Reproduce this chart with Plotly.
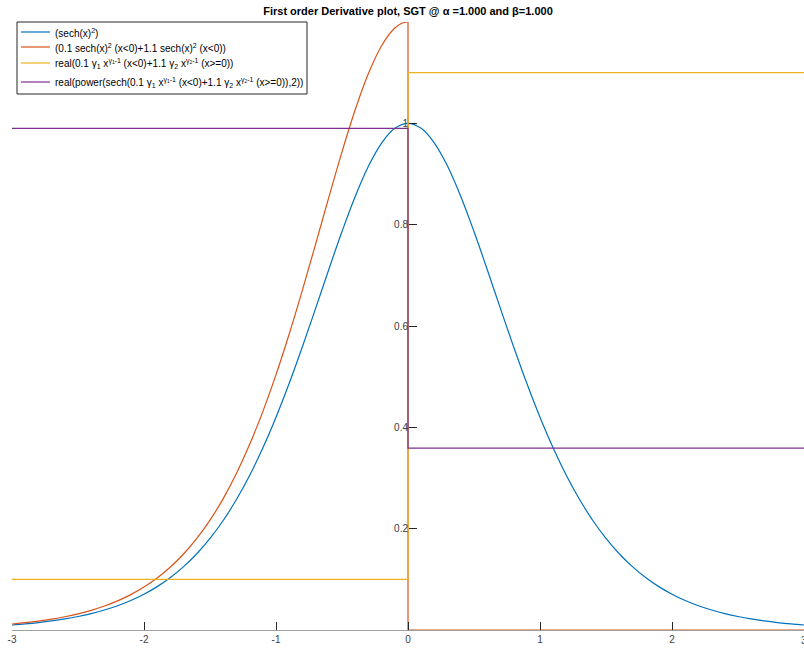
import plotly.graph_objects as go

# Sample positions
x_all = [-3.0, -2.9, -2.8, -2.7, -2.6, -2.5, -2.4, -2.3, -2.2, -2.1,
         -2.0, -1.9, -1.8, -1.7, -1.6, -1.5, -1.4, -1.3, -1.2, -1.1,
         -1.0, -0.9, -0.8, -0.7, -0.6, -0.5, -0.4, -0.3, -0.2, -0.1,
         0.0, 0.1, 0.2, 0.3, 0.4, 0.5, 0.6, 0.7, 0.8, 0.9,
         1.0, 1.1, 1.2, 1.3, 1.4, 1.5, 1.6, 1.7, 1.8, 1.9,
         2.0, 2.1, 2.2, 2.3, 2.4, 2.5, 2.6, 2.7, 2.8, 2.9, 3.0]

# (sech(x))^2
sech2_vals = [0.00987, 0.01204, 0.01468, 0.01790, 0.02182, 0.02659, 0.03238, 0.03941, 0.04792, 0.05822,
              0.07065, 0.08561, 0.10356, 0.12501, 0.15053, 0.18071, 0.21615, 0.25743, 0.30502, 0.35920,
              0.41997, 0.48692, 0.55905, 0.63474, 0.71158, 0.78645, 0.85564, 0.91514, 0.96104, 0.99007,
              1.00000, 0.99007, 0.96104, 0.91514, 0.85564, 0.78645, 0.71158, 0.63474, 0.55905, 0.48692,
              0.41997, 0.35920, 0.30502, 0.25743, 0.21615, 0.18071, 0.15053, 0.12501, 0.10356, 0.08561,
              0.07065, 0.05822, 0.04792, 0.03941, 0.03238, 0.02659, 0.02182, 0.01790, 0.01468, 0.01204, 0.00987]

# Piecewise sum, left branch (x<0) up to the origin
x_left = [-3.0, -2.9, -2.8, -2.7, -2.6, -2.5, -2.4, -2.3, -2.2, -2.1,
          -2.0, -1.9, -1.8, -1.7, -1.6, -1.5, -1.4, -1.3, -1.2, -1.1,
          -1.0, -0.9, -0.8, -0.7, -0.6, -0.5, -0.4, -0.3, -0.2, -0.1,
          -0.05, -0.02, 0.0]
piece_left_vals = [0.01184, 0.01445, 0.01762, 0.02148, 0.02618, 0.03191, 0.03886, 0.04729, 0.05750, 0.06986,
                   0.08478, 0.10273, 0.12427, 0.15001, 0.18064, 0.21685, 0.25938, 0.30892, 0.36602, 0.43104,
                   0.50396, 0.58430, 0.67086, 0.76169, 0.85390, 0.94374, 1.02677, 1.09817, 1.15325, 1.18808,
                   1.19701, 1.19952, 1.20000]
# Drop at the origin and right branch (x>=0)
x_piece_right = [0.0, 0.0, 3.0]
piece_right_vals = [1.2, 0.0, 0.0]

# real(0.1 g1 x^(g1-1) (x<0) + 1.1 g2 x^(g2-1) (x>=0))
x_step = [-3.0, 0.0, 0.0, 3.0]
deriv_vals = [0.1, 0.1, 1.1, 1.1]

# real(power(sech(...),2))
power_vals = [0.990, 0.990, 0.359, 0.359]

x_ticks = [-3, -2, -1, 0, 1, 2]
x_tick_text = ["-3", "-2", "-1", "0", "1", "2"]
y_ticks = [0.2, 0.4, 0.6, 0.8, 1.0, 1.2]
y_tick_text = ["0.2", "0.4", "0.6", "0.8", "1", ""]

legend_labels = [
    "(sech(x)<sup>2</sup>)",
    "(0.1 sech(x)<sup>2</sup> (x&lt;0)+1.1 sech(x)<sup>2</sup> (x&lt;0))",
    "real(0.1 γ<sub>1</sub> x<sup>γ<sub>1</sub>-1</sup> (x&lt;0)+1.1 γ<sub>2</sub> "
    "x<sup>γ<sub>2</sub>-1</sup> (x&gt;=0))",
    "real(power(sech(0.1 γ<sub>1</sub> x<sup>γ<sub>1</sub>-1</sup> (x&lt;0)+1.1 γ<sub>2</sub> "
    "x<sup>γ<sub>2</sub>-1</sup> (x&gt;=0)),2))",
]

BLUE = "#0072BD"
ORANGE = "#D95319"
YELLOW = "#EDB120"
PURPLE = "#7E2F8E"
COLORS = [BLUE, ORANGE, YELLOW, PURPLE]
FONT = "Liberation Sans, Arial, sans-serif"
LW = 1.2

# Figure geometry in pixels (used for the boxed key in the corner)
W, H = 804, 650
ML, MR, MT, MB = 12, 0, 22, 20
PW, PH = W - ML - MR, H - MT - MB


def px_x(px):
    return (px - ML) / PW


def px_y(py):
    return (H - MB - py) / PH


fig = go.Figure()

fig.add_trace(go.Scatter(
    x=x_all, y=sech2_vals, mode="lines",
    line=dict(color=BLUE, width=LW, shape="spline"), name=legend_labels[0]))

fig.add_trace(go.Scatter(
    x=x_left, y=piece_left_vals, mode="lines",
    line=dict(color=ORANGE, width=LW, shape="spline"), name=legend_labels[1]))
fig.add_trace(go.Scatter(
    x=x_piece_right, y=piece_right_vals, mode="lines",
    line=dict(color=ORANGE, width=LW), name=legend_labels[1]))

fig.add_trace(go.Scatter(
    x=x_step, y=deriv_vals, mode="lines",
    line=dict(color=YELLOW, width=LW), name=legend_labels[2]))

fig.add_trace(go.Scatter(
    x=x_step, y=power_vals, mode="lines",
    line=dict(color=PURPLE, width=LW), name=legend_labels[3]))

# Boxed key in the upper-left corner
shapes = [dict(type="rect", xref="paper", yref="paper",
               x0=px_x(17), x1=px_x(307), y0=px_y(94), y1=px_y(22),
               line=dict(color="#262626", width=1), fillcolor="white", layer="above")]
annotations = []
key_rows = [32, 47, 63, 82]
for label, color, row in zip(legend_labels, COLORS, key_rows):
    shapes.append(dict(type="line", xref="paper", yref="paper",
                       x0=px_x(21), x1=px_x(50), y0=px_y(row), y1=px_y(row),
                       line=dict(color=color, width=LW), layer="above"))
    annotations.append(dict(text=label, xref="paper", yref="paper",
                            x=px_x(53), y=px_y(row + 1), xanchor="left", yanchor="middle",
                            showarrow=False,
                            font=dict(family=FONT, size=10, color="#000000")))

# Rightmost x tick label sits on the window edge
annotations.append(dict(text="3", xref="x", yref="paper", x=3, y=px_y(640),
                        xanchor="center", yanchor="middle", showarrow=False,
                        font=dict(family=FONT, size=10, color="#404040")))

fig.update_layout(
    width=W, height=H,
    margin=dict(l=ML, r=MR, t=MT, b=MB),
    paper_bgcolor="white", plot_bgcolor="white",
    font=dict(family=FONT, size=10, color="#262626"),
    title=dict(
        text="<b>First order Derivative plot, SGT @ α =1.000 and β=1.000</b>",
        x=0.5, xref="paper", xanchor="center",
        y=1 - 11 / H, yref="container", yanchor="middle",
        font=dict(family=FONT, size=11, color="#000000")),
    showlegend=False,
    shapes=shapes,
    annotations=annotations,
    xaxis=dict(
        range=[-3, 3], tickvals=x_ticks, ticktext=x_tick_text,
        ticks="inside", ticklen=8,
        tickcolor="#262626", showgrid=False, zeroline=False,
        showline=True, linecolor="#a0a0a0", linewidth=1,
        tickfont=dict(size=10, color="#404040")),
    yaxis=dict(
        range=[0, 1.2], tickvals=y_ticks, ticktext=y_tick_text,
        ticks="inside", ticklen=8, tickcolor="#262626",
        showgrid=False, zeroline=False, showline=False,
        anchor="free", position=0.5,
        tickfont=dict(size=10, color="#404040")),
)

fig.write_html("out.html")
